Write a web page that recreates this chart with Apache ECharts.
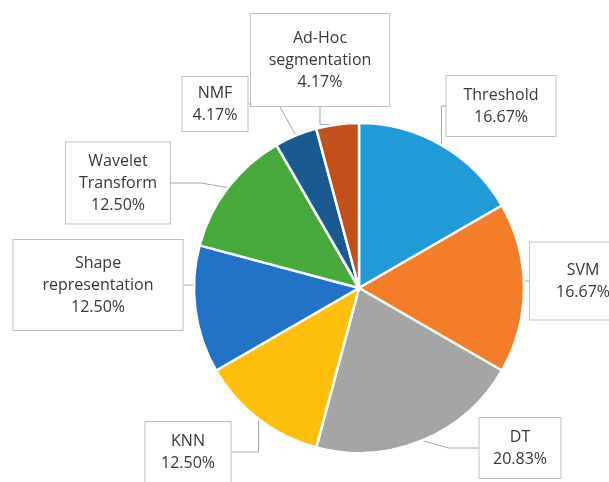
<!DOCTYPE html>
<html>
<head>
<meta charset="utf-8">
<style>
  html, body { margin: 0; padding: 0; background: #fff; }
  #chart { width: 609px; height: 482px; }
</style>
<script src="https://cdn.jsdelivr.net/npm/echarts@6/dist/echarts.min.js"></script>
</head>
<body>
<div id="chart"></div>
<script>
// Share of methods (percent of studies)
const categories = [
  'Threshold', 'SVM', 'DT', 'KNN',
  'Shape\nrepresentation', 'Wavelet\nTransform', 'NMF', 'Ad-Hoc\nsegmentation'
];
const shares = [16.67, 16.67, 20.83, 12.50, 12.50, 12.50, 4.17, 4.17];
const colors = ['#219bd8', '#f47d2a', '#a5a5a5', '#fdbf0b', '#2272c6', '#47a93c', '#1b5a8e', '#c2501b'];

// Callout boxes: centre x, centre y, width, height
const callouts = [
  [501, 106, 109, 60],
  [583, 281, 106, 77],
  [520, 448, 81, 60],
  [188, 452, 85, 60],
  [98, 285, 169, 90],
  [118, 183, 104, 81],
  [215, 104, 65, 54],
  [320, 60, 138, 92]
];

const LINE_H = 22;

const chart = echarts.init(document.getElementById('chart'), null, { renderer: 'canvas' });

const data = categories.map((name, i) => {
  const lines = name.split('\n').length + 1;
  const [, , w, h] = callouts[i];
  const padV = Math.max(0, (h - lines * LINE_H) / 2);
  return {
    name: name,
    value: shares[i],
    itemStyle: { color: colors[i] },
    label: { width: w, padding: [padV, 0, padV, 0] }
  };
});

chart.setOption({
  animation: false,
  backgroundColor: '#ffffff',
  series: [{
    type: 'pie',
    center: [359, 288],
    radius: 165,
    startAngle: 90,
    clockwise: true,
    avoidLabelOverlap: false,
    itemStyle: { borderColor: '#ffffff', borderWidth: 2.5 },
    label: {
      show: true,
      position: 'outside',
      formatter: p => p.name + '\n' + p.value.toFixed(2) + '%',
      fontFamily: 'Open Sans',
      fontSize: 16,
      lineHeight: LINE_H,
      color: '#383838',
      align: 'center',
      backgroundColor: '#ffffff',
      borderColor: '#bfbfbf',
      borderWidth: 1
    },
    labelLine: {
      show: true,
      lineStyle: { color: '#a6a6a6', width: 1 }
    },
    labelLayout: params => {
      const c = callouts[params.dataIndex];
      return { x: c[0], y: c[1], align: 'center', verticalAlign: 'middle' };
    },
    data: data
  }]
});
</script>
</body>
</html>
